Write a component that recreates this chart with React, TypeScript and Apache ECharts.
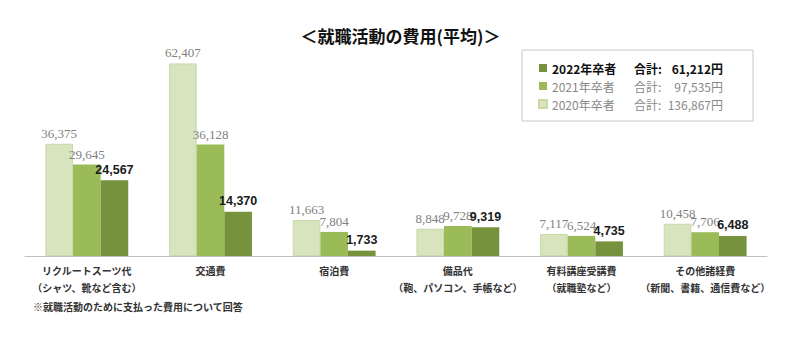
import React, { useEffect, useRef } from "react";
import * as echarts from "echarts";

const categories = [
  "リクルートスーツ代\n（シャツ、靴など含む）",
  "交通費",
  "宿泊費",
  "備品代\n（鞄、パソコン、手帳など）",
  "有料講座受講費\n（就職塾など）",
  "その他諸経費\n（新聞、書籍、通信費など）",
];
const seriesNames = ["2020年卒者", "2021年卒者", "2022年卒者"];
const values2020 = [36375, 62407, 11663, 8848, 7117, 10458];
const values2021 = [29645, 36128, 7804, 9728, 6524, 7706];
const values2022 = [24567, 14370, 1733, 9319, 4735, 6488];
const totals: Record<string, string> = {
  "2022年卒者": "61,212円",
  "2021年卒者": "97,535円",
  "2020年卒者": "136,867円",
};
const titleText = "＜就職活動の費用(平均)＞";
const footnote = "※就職活動のために支払った費用について回答";

const colors = ["#D7E4BD", "#9BBB59", "#76923C"];

export default function App() {
  const ref = useRef<HTMLDivElement>(null);
  useEffect(() => {
    if (!ref.current) return;
    const chart = echarts.init(ref.current, null, { renderer: "svg" });
    const fmt = (v: number) => v.toLocaleString("en-US");
    const grayLabel = {
      show: true,
      position: "top",
      distance: 4,
      color: "#7f7f7f",
      fontFamily: "Liberation Serif",
      fontSize: 13,
      formatter: (p: any) => fmt(p.value),
    };
    const boldLabel = {
      show: true,
      position: "top",
      distance: 4,
      color: "#1a1a1a",
      fontFamily: "Liberation Sans",
      fontWeight: "bold",
      fontSize: 12.5,
      formatter: (p: any) => fmt(p.value),
    };
    const sans = "'Noto Sans CJK JP', 'Noto Sans', sans-serif";
    chart.setOption({
      animation: false,
      title: {
        text: titleText,
        left: "center",
        top: 22,
        textStyle: { fontFamily: sans, fontSize: 17, fontWeight: "bold", color: "#111" },
      },
      legend: {
        data: ["2022年卒者", "2021年卒者", "2020年卒者"],
        orient: "vertical",
        left: 522,
        top: 50,
        padding: [12, 30, 11, 16],
        itemGap: 6,
        itemWidth: 8,
        itemHeight: 8,
        icon: "rect",
        borderColor: "#c8c8c8",
        borderWidth: 1,
        selectedMode: false,
        formatter: (name: string) =>
          name === "2022年卒者"
            ? `{a|${name}}{b|合計:}{c|${totals[name]}}`
            : `{d|${name}}{e|合計:}{f|${totals[name]}}`,
        textStyle: {
          fontFamily: sans,
          fontSize: 12,
          rich: {
            a: { width: 82, fontFamily: sans, fontSize: 12, fontWeight: "bold", color: "#111" },
            b: { width: 22, fontFamily: sans, fontSize: 12, fontWeight: "bold", color: "#111" },
            c: { width: 67, align: "right", fontFamily: sans, fontSize: 12, fontWeight: "bold", color: "#111" },
            d: { width: 82, fontFamily: sans, fontSize: 12, color: "#888" },
            e: { width: 22, fontFamily: sans, fontSize: 12, color: "#888" },
            f: { width: 67, align: "right", fontFamily: sans, fontSize: 12, color: "#888" },
          },
        },
      },
      grid: { left: 25, right: 34, top: 40, bottom: 95 },
      xAxis: {
        type: "category",
        data: categories,
        axisLine: { lineStyle: { color: "#bfbfbf" } },
        axisTick: { inside: true, length: 4, lineStyle: { color: "#bfbfbf" } },
        axisLabel: {
          interval: 0,
          margin: 6,
          fontFamily: sans,
          fontSize: 10,
          fontWeight: "bold",
          lineHeight: 17,
          color: "#333",
        },
      },
      yAxis: { type: "value", min: 0, max: 70000, show: false, splitLine: { show: false } },
      series: [
        {
          name: seriesNames[0],
          type: "bar",
          data: values2020,
          barGap: "0%",
          barCategoryGap: "33%",
          itemStyle: { color: colors[0], borderColor: "#c9d9ab", borderWidth: 1 },
          label: grayLabel,
        },
        {
          name: seriesNames[1],
          type: "bar",
          data: values2021,
          barGap: "0%",
          barCategoryGap: "33%",
          itemStyle: { color: colors[1] },
          label: grayLabel,
        },
        {
          name: seriesNames[2],
          type: "bar",
          data: values2022,
          barGap: "0%",
          barCategoryGap: "33%",
          itemStyle: { color: colors[2] },
          label: boldLabel,
        },
      ],
      graphic: [
        {
          type: "text",
          left: 33,
          top: 301,
          style: {
            text: footnote,
            fontFamily: sans,
            fontSize: 10,
            fontWeight: "bold",
            fill: "#333",
          },
        },
      ],
    });
    return () => chart.dispose();
  }, []);
  return (
    <div
      ref={ref}
      style={{ position: "fixed", left: 0, top: 0, width: 801, height: 351, background: "#fff" }}
    />
  );
}
